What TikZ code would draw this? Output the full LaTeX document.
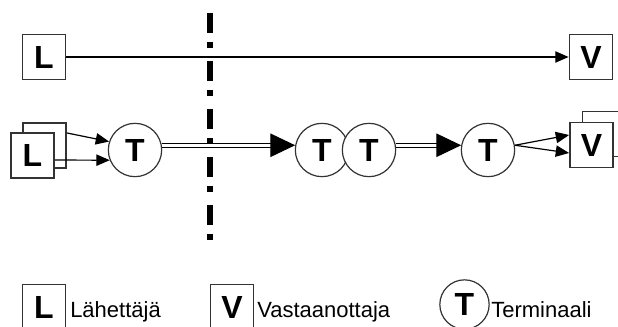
\documentclass[tikz,border=0pt]{standalone}
\usepackage{fontspec}
\setmainfont{Liberation Sans}
\usetikzlibrary{arrows.meta,calc}
\begin{document}
\begin{tikzpicture}[x=0.75pt,y=-0.75pt,
  box/.style={draw=black!80, line width=1.1pt, fill=white,
    minimum width=32.5pt, minimum height=33.5pt, inner sep=0pt,
    font=\fontsize{24}{24}\selectfont\bfseries},
  term/.style={circle, draw=black!80, line width=0.9pt, fill=white,
    minimum size=40pt, inner sep=0pt,
    font=\fontsize{24}{24}\selectfont\bfseries},
  link/.style={line width=0.9pt, -{Triangle[length=10pt,width=8.5pt]}},
  trunk/.style={double, double distance=2.4pt, line width=0.75pt,
    -{Triangle[length=18.5pt,width=17.5pt]}},
  cut/.style={line width=4.5pt,
    dash pattern=on 15pt off 6.75pt on 4.5pt off 9.75pt},
  legend/.style={anchor=base west, inner sep=0pt,
    font=\fontsize{16.5}{16.5}\selectfont}
]
\useasboundingbox (0,0) rectangle (618,327);

% direct connection
\node[box] (L1) at (44,57) {L};
\node[box] (V1) at (591,57) {V};
\draw[link] (L1) -- (V1);

% dash-dot cut line
\coordinate (cutTop) at (210,13);
\coordinate (cutBot) at (210,241);
\draw[cut] (cutTop) -- (cutBot);

% connection through terminals
\node[box] (Lb) at (44.5,145.5) {};
\node[box] (Lf) at (32.5,155.5) {L};
\node[term] (T1) at (135,150) {T};
\node[term] (T2) at (322,150) {T};
\node[term] (T3) at (369,150) {T};
\node[term] (T4) at (488,150) {T};
\node[box] (Vb) at (604,134) {};
\node[box] (Vf) at (591.5,145) {V};

\draw[link] ([yshift=9.4pt]Lb.east) -- (T1.162);
\draw[link] ([yshift=-3.4pt]Lf.east) -- (T1.202);
\draw[trunk] (T1.10) -- (T2.170);
\draw[trunk] (T3.10) -- (T4.170);
\draw[link] (T4.10) -- ([yshift=7.5pt]Vf.west);
\draw[link] (T4.10) -- ([yshift=-6pt]Vf.west);

% legend
\node[box] (kL) at (44,307) {L};
\node[legend] (kLt) at (70,318) {Lähettäjä};
\node[box] (kV) at (232,307) {V};
\node[legend] (kVt) at (257,318) {Vastaanottaja};
\node[term, minimum size=37pt] (kT) at (464.5,304.5) {T};
\node[legend] (kTt) at (491,318) {Terminaali};
\end{tikzpicture}
\end{document}
